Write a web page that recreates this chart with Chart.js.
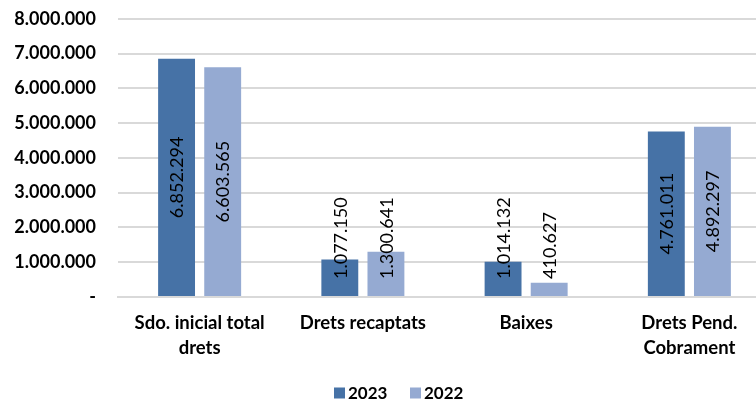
<!DOCTYPE html>
<html>
<head>
<meta charset="utf-8">
<script src="https://cdn.jsdelivr.net/npm/chart.js@4/dist/chart.umd.min.js"></script>
<style>
html,body{margin:0;padding:0;background:#fff;overflow:hidden;width:756px;height:403px;}
#wrap{position:relative;top:-14px;width:772px;height:417px;}
</style>
</head>
<body>
<div id="wrap"><canvas id="c" width="772" height="417"></canvas></div>
<script>
const categories = [["Sdo. inicial total","drets"],"Drets recaptats","Baixes",["Drets Pend.","Cobrament"]];
const seriesNames = ["2023","2022"];
const values2023 = [6852294, 1077150, 1014132, 4761011];
const values2022 = [6603565, 1300641, 410627, 4892297];
const yTicks = [0,1000000,2000000,3000000,4000000,5000000,6000000,7000000,8000000];
const colors = ['#4672A6', '#95AAD2'];

function fmt(v){
  if (v === 0) return "-";
  return String(Math.round(v)).replace(/\B(?=(\d{3})+(?!\d))/g, ".");
}

const FONT = "Lato, 'Open Sans', sans-serif";

const labelPlugin = {
  id: 'barLabels',
  afterDatasetsDraw(chart){
    const ctx = chart.ctx;
    ctx.save();
    ctx.font = "18px " + FONT;
    ctx.fillStyle = "#000";
    ctx.textAlign = "center";
    ctx.textBaseline = "middle";
    chart.data.datasets.forEach((ds, di) => {
      const meta = chart.getDatasetMeta(di);
      meta.data.forEach((bar, i) => {
        const txt = fmt(ds.data[i]);
        const w = ctx.measureText(txt).width;
        const center = (bar.y + bar.base) / 2;
        const cy = Math.min(center, bar.base - 17 - w / 2);
        ctx.save();
        ctx.translate(bar.x + 1, cy);
        ctx.rotate(-Math.PI / 2);
        ctx.fillText(txt, 0, 0);
        ctx.restore();
      });
    });
    ctx.restore();
  }
};

const legendPlugin = {
  id: 'customLegend',
  afterDraw(chart){
    const ctx = chart.ctx;
    ctx.save();
    ctx.font = "bold 17px " + FONT;
    ctx.textBaseline = "middle";
    ctx.textAlign = "left";
    const y = 407;
    const xs = [334, 410];
    chart.data.datasets.forEach((ds, i) => {
      ctx.fillStyle = ds.backgroundColor;
      ctx.fillRect(xs[i], y - 5.5, 11, 11);
      ctx.fillStyle = '#000';
      ctx.fillText(ds.label, xs[i] + 14, y + 1);
    });
    ctx.restore();
  }
};

new Chart(document.getElementById('c'), {
  type: 'bar',
  data: {
    labels: categories,
    datasets: [
      { label: seriesNames[0], data: values2023, backgroundColor: colors[0], borderWidth: 0 },
      { label: seriesNames[1], data: values2022, backgroundColor: colors[1], borderWidth: 0 }
    ]
  },
  options: {
    responsive: false,
    animation: false,
    devicePixelRatio: 1,
    layout: { padding: { top: 0, right: 1, left: 0, bottom: 0 } },
    datasets: { bar: { categoryPercentage: 0.565, barPercentage: 0.8 } },
    plugins: {
      legend: { display: false },
      tooltip: { enabled: false }
    },
    scales: {
      x: {
        grid: { display: false, drawTicks: false },
        border: { display: true, color: '#D9D9D9', width: 2 },
        ticks: {
          font: { family: FONT, size: 18.5, weight: 'bold', lineHeight: 1.35 },
          color: '#000', maxRotation: 0, autoSkip: false, padding: 14
        },
        afterFit(s){ s.height = 106; }
      },
      y: {
        min: 0, max: 8000000,
        afterBuildTicks(s){ s.ticks = yTicks.map(v => ({ value: v })); },
        grid: { color: '#D9D9D9', lineWidth: 2, drawTicks: false },
        border: { display: false },
        ticks: {
          font: { family: FONT, size: 18, weight: 'bold' },
          color: '#000', padding: 22,
          callback: (v) => fmt(v)
        },
        afterFit(s){ s.width = 118; }
      }
    }
  },
  plugins: [labelPlugin, legendPlugin]
});
</script>
</body>
</html>
